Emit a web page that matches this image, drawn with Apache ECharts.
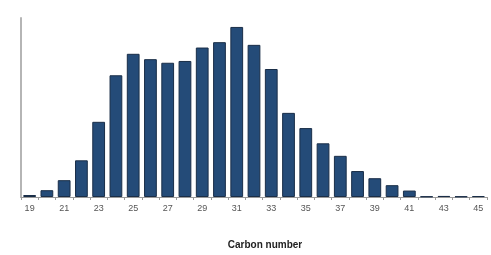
<!DOCTYPE html>
<html>
<head>
<meta charset="utf-8">
<script src="https://cdn.jsdelivr.net/npm/echarts@6/dist/echarts.min.js"></script>
<style>
  html, body { margin: 0; padding: 0; background: #fff; }
  #main { width: 491px; height: 255px; }
</style>
</head>
<body>
<div id="main"></div>
<script>
const carbonNumbers = ['19', '20', '21', '22', '23', '24', '25', '26', '27', '28', '29', '30', '31', '32',
  '33', '34', '35', '36', '37', '38', '39', '40', '41', '42', '43', '44', '45'];
const abundance = [0.11, 0.38, 0.94, 2.05, 4.2, 6.8, 8.0, 7.7, 7.5, 7.6, 8.35, 8.65, 9.5, 8.5,
  7.15, 4.7, 3.85, 3.0, 2.3, 1.45, 1.05, 0.66, 0.36, 0.03, 0.06, 0.03, 0.05];
const yMax = 10;

const chart = echarts.init(document.getElementById('main'));

const option = {
  animation: false,
  grid: { left: 21, right: 4, top: 18, bottom: 52 },
  xAxis: {
    type: 'category',
    data: carbonNumbers,
    axisLine: { lineStyle: { color: '#9a9a9a', width: 1 } },
    axisTick: { show: true, interval: 0, length: 3, lineStyle: { color: '#9a9a9a' } },
    axisLabel: { interval: 1, color: '#555', fontSize: 9, margin: 7, fontFamily: 'Liberation Sans' },
    name: 'Carbon number',
    nameLocation: 'middle',
    nameGap: 43,
    nameTextStyle: {
      color: '#222', fontSize: 10, fontWeight: 'bold', fontFamily: 'Liberation Sans',
      padding: [0, 0, 0, 22]
    }
  },
  yAxis: {
    type: 'value',
    min: 0,
    max: yMax,
    axisLine: { show: true, lineStyle: { color: '#b5b5b5', width: 2 } },
    axisTick: { show: false },
    axisLabel: { show: false },
    splitLine: { show: false }
  },
  series: [
    {
      type: 'bar',
      data: abundance,
      barCategoryGap: '26%',
      itemStyle: { color: '#244b78', borderColor: '#1a2e48', borderWidth: 1 }
    }
  ]
};

chart.setOption(option);
</script>
</body>
</html>
